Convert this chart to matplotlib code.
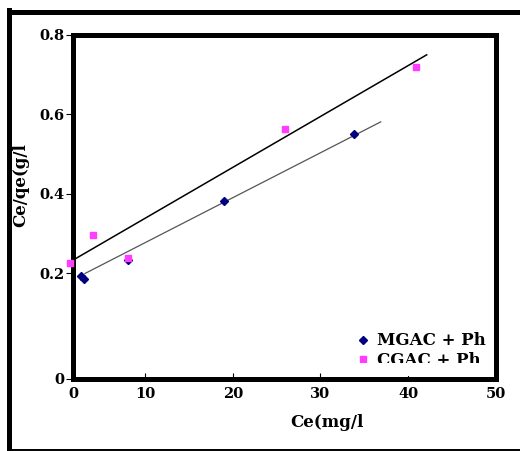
import matplotlib
matplotlib.use("Agg")
import matplotlib.pyplot as plt
from matplotlib.lines import Line2D
from matplotlib.patches import Rectangle

# ---- data ----
mgac_x = [2.68, 3.05, 8.07, 19.0, 33.85]
mgac_y = [0.193, 0.185, 0.233, 0.382, 0.550]
cgac_x = [1.46, 4.04, 8.07, 25.92, 40.88]
cgac_y = [0.226, 0.297, 0.239, 0.564, 0.720]
# trend lines (end points)
mgac_fit_x = [3.17, 36.86]
mgac_fit_y = [0.199, 0.581]
cgac_fit_x = [1.83, 42.1]
cgac_fit_y = [0.233, 0.750]

series_labels = ["MGAC + Ph", "CGAC + Ph"]
x_limits = (1.8, 50)
y_limits = (-0.067, 0.8)
x_ticks = [1.8, 10, 20, 30, 40, 50]
x_tick_labels = ["0", "10", "20", "30", "40", "50"]
y_ticks = [-0.067, 0.2, 0.4, 0.6, 0.8]
y_tick_labels = ["0", "0.2", "0.4", "0.6", "0.8"]
x_label = "Ce(mg/l"
y_label = "Ce/qe(g/l"

W, H = 520, 451
FONT = "DejaVu Serif"

fig = plt.figure(figsize=(W / 100, H / 100), dpi=100)
fig.patch.set_facecolor("white")
ax = fig.add_axes([73 / W, 1 - 379 / H, 423 / W, 344 / H])

ax.plot(mgac_fit_x, mgac_fit_y, color="#555555", lw=0.9, zorder=2)
ax.plot(cgac_fit_x, cgac_fit_y, color="black", lw=1.1, zorder=2)
ax.plot(mgac_x, mgac_y, linestyle="none", marker="D", ms=4.0, color="#000080",
        label=series_labels[0], zorder=3, clip_on=False)
ax.plot(cgac_x, cgac_y, linestyle="none", marker="s", ms=4.8, color="#FF3CFF",
        mec="#FF3CFF", label=series_labels[1], zorder=4, clip_on=False)

ax.set_xlim(*x_limits)
ax.set_ylim(*y_limits)
ax.set_xticks(x_ticks)
ax.set_xticklabels(x_tick_labels)
ax.set_yticks(y_ticks)
ax.set_yticklabels(y_tick_labels)

for s in ax.spines.values():
    s.set_linewidth(3.6)
    s.set_color("black")
    s.set_zorder(3.5)

ax.tick_params(axis="x", direction="in", length=4.5, width=0.8, pad=6,
               top=False, labelsize=10.5)
ax.tick_params(axis="y", direction="out", length=5, width=0.8, pad=1,
               right=False, labelsize=10.5)
for lab in ax.get_xticklabels() + ax.get_yticklabels():
    lab.set_fontfamily(FONT)
    lab.set_fontweight("bold")

fig.text(327 / W, 1 - 422.5 / H, x_label, ha="center", va="center",
         fontsize=12, fontweight="bold", family=FONT)
fig.text(21 / W, 1 - 185 / H, y_label, ha="center", va="center", rotation=90,
         fontsize=12, fontweight="bold", family=FONT)

leg = ax.legend(loc="upper left", bbox_to_anchor=(348 / W, 1 - 324 / H),
                bbox_transform=fig.transFigure, frameon=False, borderpad=0,
                handlelength=0.8, handletextpad=0.45, labelspacing=0.15,
                prop={"family": FONT, "weight": "bold", "size": 12},
                markerscale=0.9)
leg.set_zorder(5)
# the reference's lower legend entry is cut off at the bottom
fig.add_artist(Rectangle((360 / W, 1 - 376 / H), 130 / W, 13 / H,
                         transform=fig.transFigure, facecolor="white",
                         edgecolor="none", zorder=10))

# outer frame
fig.add_artist(Line2D([8.5 / W, 8.5 / W], [0, 1 - 9.5 / H], transform=fig.transFigure,
                      color="black", lw=3.6, solid_capstyle="projecting"))
fig.add_artist(Line2D([8.5 / W, 1], [1 - 12 / H, 1 - 12 / H], transform=fig.transFigure,
                      color="black", lw=3.6, solid_capstyle="projecting"))
fig.add_artist(Line2D([8.5 / W, 1], [1 - 449.5 / H, 1 - 449.5 / H], transform=fig.transFigure,
                      color="black", lw=1.4))

fig.savefig("out.png", dpi=100, facecolor="white")
